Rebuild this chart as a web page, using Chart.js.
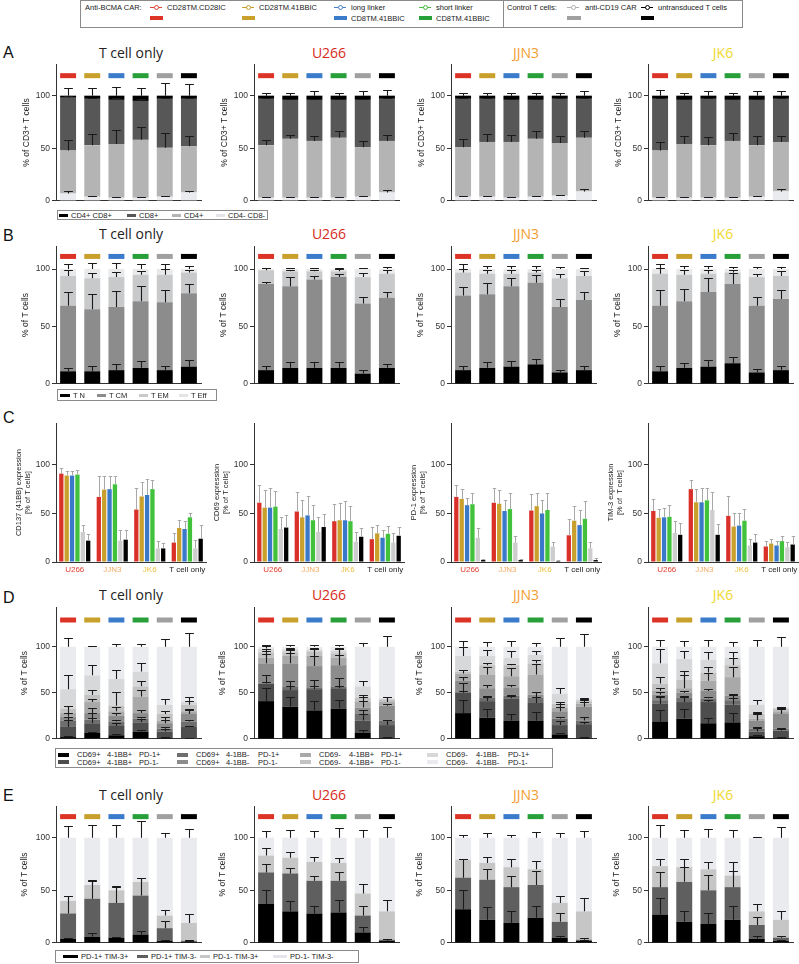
<!DOCTYPE html>
<html><head><meta charset="utf-8">
<script src="https://cdn.jsdelivr.net/npm/chart.js"></script>
<style>
body{margin:0;width:799px;height:964px;position:relative;background:#fff;overflow:hidden;font-family:'Liberation Sans',Arial,sans-serif;color:#222}
canvas{position:absolute}
.t{position:absolute;white-space:nowrap}
.b{position:absolute;border:1px solid #8a8a8a;box-sizing:border-box}
</style></head><body>
<script>
// ---------- DATA ----------
const conditions = ['CD28TM.CD28IC','CD28TM.41BBIC','long linker CD8TM.41BBIC','short linker CD8TM.41BBIC','anti-CD19 CAR','untransduced T cells'];
const targets = ['T cell only','U266','JJN3','JK6'];
const groupLabels = ['U266','JJN3','JK6','T cell only'];

// A: % of CD3+ T cells, subsets bottom->top
const cd3Subsets = ['CD4- CD8-','CD4+','CD8+','CD4+ CD8+'];
const cd3_TcellOnly = [[7,4,3,3,4,8],[41,49,51,55,46.5,44],[50,44,42,37,46.5,45],[2,3,4,5,3,3]];
const cd3_TcellOnly_sd = [[2,1,0.5,0.5,1,1.2],[9.5,11,13,12.5,14.5,10],[1.5,1,1.5,2,1,1],[7,7,8,7,12,11]];
const cd3_U266 = [[3,3,3,3,4,8],[50,56,54,57,47,49],[44,37,39,36,45,40],[3,4,4,4,4,3]];
const cd3_U266_sd = [[1,1,1,1,1,2],[5,4,5,6,6,6],[1,1,1,1,1,1],[3,3,4,3,4,5]];
const cd3_JJN3 = [[4,4,3,4,5,9],[47,52,53,55,50,51],[46,41,40,37,42,37],[3,3,4,4,3,3]];
const cd3_JJN3_sd = [[1,1,1,1,1,2],[8,8,7,7,7,6],[1,1,1,1,1,1],[3,3,3,3,3,4]];
const cd3_JK6 = [[3,3,3,3,4,9],[45,51,50,54,49,47],[49,42,44,39,43,41],[3,4,3,4,4,3]];
const cd3_JK6_sd = [[1,1,1,1,1,2],[8,8,8,8,9,6],[1,1,1,1,1,1],[5,3,4,3,4,4]];

// B: memory subsets
const memSubsets = ['T N','T CM','T EM','T Eff'];
const mem_TcellOnly = [[11,11,12,14,12,15],[57,54,55,58,59,64],[26,27,26,23,24,18],[6,8,7,5,5,3]];
const mem_TcellOnly_sd = [[3,4.5,5,6,4,5.5],[12,13,14,13,10.5,8],[5,5,4.5,3.5,5,2],[4,5,5.5,4,4,2.5]];
const mem_U266 = [[12,14,14,14,9,14],[75,71,77,79,61,61],[12,13,7,5,23,21],[1,2,2,2,7,4]];
const mem_U266_sd = [[4,5,5,5,3,3],[2,8,3,3,6,5],[2,1,1,2,4,3],[1,1,1,1,1,2]];
const mem_JJN3 = [[12,14,15,17,10,12],[65,64,70,71,57,61],[20,18,11,9,25,21],[3,4,4,3,8,6]];
const mem_JJN3_sd = [[4,5,5,5,2,4],[7,10,7,7,7,7],[3,3,3,2,4,4],[4,3,3,3,2,1]];
const mem_JK6 = [[11,14,15,18,10,12],[57,58,65,69,58,62],[28,23,16,10,25,20],[4,5,4,3,7,6]];
const mem_JK6_sd = [[5,4,6,5,3,4],[14,11,12,10,8,8],[5,4,3,2,3,4],[4,3,3,2,2,2]];

// C: single marker expression [% of T cells], per condition across groups (U266, JJN3, JK6, T cell only)
const cd137 = [[91,67,54,20],[89,74.5,67.5,35],[89,75,69,34],[90,80,75,46],[31,22,14,14],[22,23,14,24]];
const cd137_sd = [[6,22,22,10],[5,14,15,8.5],[5,14,16,8],[5,8.5,9,4.5],[7,11,8,9],[7,10,6,14]];
const cd69 = [[61,52,42,23.5],[56,46,43,29.5],[56,48,43,25],[57,43,42,29],[34,31,21,20],[35.5,36,26,27]];
const cd69_sd = [[18,20,18,12.5],[18,18,17.5,9],[20,20,19.5,8],[16.5,15.5,15.5,8],[12,15,10,10],[12.5,13,9.5,9]];
const pd1 = [[67,61,53,27.5],[65,60,57.5,42.5],[58.5,52.5,50,38],[59.5,54.5,53.5,44.5],[25,20,16,14],[2,2,1,2]];
const pd1_sd = [[12,15,17,16.5],[10.5,14,14,15.5],[7.5,11.5,13.5,15.5],[12,17,18,18.5],[10,6.5,5,7],[1,1,1,2]];
const tim3 = [[52.5,75,47.5,16],[45.5,61.5,36.5,19],[46,61.5,37.5,17],[46.5,63.5,42.5,21.5],[30,53.5,17,15],[28,28,20,18]];
const tim3_sd = [[12,9,20.5,6],[9.5,13.5,13.5,4.5],[10,15,12.5,4.5],[12,13,12.5,5.5],[12,18.5,6.5,6],[12,11,9,9]];

// D: CD69 / 4-1BB / PD-1 combinations
const comboSubsets = ['CD69+ 4-1BB+ PD-1+','CD69+ 4-1BB+ PD-1-','CD69+ 4-1BB- PD-1+','CD69+ 4-1BB- PD-1-','CD69- 4-1BB+ PD-1+','CD69- 4-1BB+ PD-1-','CD69- 4-1BB- PD-1+','CD69- 4-1BB- PD-1-'];
const combo_TcellOnly = [[2,7,4,8,1,0.5],[11,10,10,10,7,12.5],[7,4,5,4,3,6],[4,7,6,6,6,8],[4,12,5,18,3,3],[5,8,6,11,7,7],[21,21,29,16,10,3],[46,31,35,27,63,60]];
const combo_TcellOnly_sd = [[1,1,1,2,1,0.5],[7,6,3,4,3,1],[4,7,2,2,2,1],[4,5,3,3,4,4],[8,3,5,7,4,2],[3,5,15,6,3,4],[15,11,10,9,6,6],[10,0.5,3,3,8,15]];
const combo_U266 = [[41,35,31,33,7,1],[19,18,23,22,13,14],[1,4,2,2,7,5],[21,25,23,23,7,16],[6,8,11,8,6,4],[6,4,5,5,5,3],[4,3,2,3,12,1],[2,3,3,4,43,56]];
const combo_U266_sd = [[14,11,10,9,3,1],[9,4,3,2,7,6],[1,6,8,9,4,1],[10,11,11,11,7,2],[7,6,7,9,5,5],[3,3,3,5,3,2],[3,2,2,3,6,1],[2,2,2,2,4,12]];
const combo_JJN3 = [[28,23,20,20,5,1],[22,18,24,19,10,15],[1,4,3,6,7,4],[12,10,9,3,8,15],[8,15,12,22,4,3],[2,10,12,12,4,3],[17,10,8,9,11,2],[10,10,12,9,51,57]];
const combo_JJN3_sd = [[14,9,7,9,1,1],[2,5,3,6,4,2],[10,2,1,6,2,4],[4,3,2,3,5,5],[4,8,9,11,4,4],[2,2,1,4,2,2],[10,6,7,4,6,1],[6,5,6,4,10,14]];
const combo_JK6 = [[19,22,17,18,3,1],[19,18,23,19,5,8],[4,5,4,5,3,2],[6,5,8,5,9,16],[4,5,11,20,2,3],[8,9,9,13,5,3],[22,23,14,8,10,1],[18,13,14,12,63,66]];
const combo_JK6_sd = [[12,10,6,10,1,1],[7,5,2,7,4,2],[5,2,1,6,2,1],[3,2,2,2,7,5],[3,14,9,11,6,4],[7,10,6,8,2,2],[16,8,8,6,5,1],[7,6,7,5,7,11]];

// E: PD-1 / TIM-3
const exhSubsets = ['PD-1+ TIM-3+','PD-1+ TIM-3-','PD-1- TIM-3+','PD-1- TIM-3-'];
const exh_TcellOnly = [[4,6,5,8,2,1],[24,36,33,37,12,1],[12,13,12,13,12,17],[60,45,50,42,74,81]];
const exh_TcellOnly_sd = [[1,3,1,3,1,0.5],[17,17,15,17,7,1],[5,5,4,4,5,8],[11,12,12,16,4,8]];
const exh_U266 = [[37,30,28,29,10,2],[30,36,31,30,16,1],[16,15,18,17,21,27],[17,19,23,24,53,70]];
const exh_U266_sd = [[13,10,7,12,5,2],[8,5,5,8,9,1],[7,5,5,5,9,11],[6,7,6,9,7,10]];
const exh_JJN3 = [[32,22,19,24,5,2],[30,38,34,31,15,1],[17,16,19,15,18,27],[21,24,28,30,62,70]];
const exh_JJN3_sd = [[18,12,11,11,2,1],[18,10,11,13,8,2],[1,6,8,8,7,13],[3,4,3,5,4,6]];
const exh_JK6 = [[27,20,18,22,4,2],[26,38,32,31,13,3],[20,14,20,11,13,17],[27,28,30,36,70,78]];
const exh_JK6_sd = [[16,10,10,13,3,1],[14,14,15,15,8,2],[7,8,7,13,7,8],[12,7,8,7,1,10]];

// ---------- STYLE ----------
const FONT = "'Liberation Sans', Arial, sans-serif";
const markerColors = ['#dc3326','#c9a02c','#3b7bcb','#27a03a','#a0a0a0','#000000'];
const cColors = ['#d9302a','#c9a02c','#3a78c8','#41c23a','#cdcdcd','#000000'];
const cd3Colors = ['#e9ebee','#b4b4b4','#575757','#000000'];
const memColors = ['#000000','#8c8c8c','#c8c9ca','#e7e9eb'];
const comboColors = ['#000000','#4d4d4d','#6e6e6e','#8c8c8c','#a9a9a9','#c2c2c2','#d6d8da','#e9ebee'];
const exhColors = ['#000000','#5f5f5f','#c6c6c6','#e9ebee'];
const titleColors = ['#222222','#d62a20','#f39c2e','#efd82c'];
const groupColors = ['#e0402f','#f5ac64','#eebf3c','#222222'];
const COLS = [56,254,451,648];

// ---------- PLUGINS ----------
const errPlugin = {
  id:'errbars',
  afterDatasetsDraw(chart, args, o){
    const ctx = chart.ctx, y = chart.scales.y;
    ctx.save(); ctx.strokeStyle = o.color; ctx.lineWidth = o.width;
    chart.data.datasets.forEach((ds,di)=>{
      if(!ds.sd) return;
      chart.getDatasetMeta(di).data.forEach((el,i)=>{
        const sd = ds.sd[i]; if(!sd) return;
        const len = y.getPixelForValue(0) - y.getPixelForValue(sd);
        const x = Math.round(el.x)+0.5, y0 = el.y, y1 = Math.round(el.y - len)+0.5;
        const cw = el.width*o.cap/2;
        ctx.beginPath(); ctx.moveTo(x,y0); ctx.lineTo(x,y1);
        ctx.moveTo(x-cw,y1); ctx.lineTo(x+cw,y1); ctx.stroke();
      });
    });
    ctx.restore();
  }
};
const markerPlugin = {
  id:'condMarkers',
  afterDatasetsDraw(chart, args, o){
    if(!o.level) return;
    const ctx = chart.ctx, y = chart.scales.y;
    const meta = chart.getDatasetMeta(0);
    const yc = y.getPixelForValue(o.level);
    ctx.save();
    meta.data.forEach((el,i)=>{
      ctx.fillStyle = markerColors[i];
      ctx.fillRect(el.x - el.width/2, yc - 2.5, el.width, 5);
    });
    ctx.restore();
  }
};

// ---------- HELPERS ----------
function txt(x, yc, s, size, color, extra){
  const d = document.createElement('div'); d.className='t';
  const lh = Math.round(size*1.25);
  d.style.cssText = `left:${x}px;top:${yc-lh/2}px;font-size:${size}px;line-height:${lh}px;color:${color||'#222'};${extra||''}`;
  d.textContent = s; document.body.appendChild(d); return d;
}
function rect(x,y,w,h,c){ const d=document.createElement('div'); d.style.cssText=`position:absolute;left:${x}px;top:${y}px;width:${w}px;height:${h}px;background:${c}`; document.body.appendChild(d); }
function box(x,y,w,h){ const d=document.createElement('div'); d.className='b'; d.style.cssText+=`left:${x}px;top:${y}px;width:${w}px;height:${h}px`; document.body.appendChild(d); }
function lineMarker(x,yc,c){
  rect(x, yc-0.5, 12, 1, c);
  const d=document.createElement('div');
  d.style.cssText=`position:absolute;left:${x+3.5}px;top:${yc-2.5}px;width:5px;height:5px;border:1px solid ${c};border-radius:50%;background:#fff;box-sizing:border-box`;
  document.body.appendChild(d);
}
function title(col, capTop, s, color){
  const d=document.createElement('div'); d.className='t';
  d.style.cssText=`left:${COLS[col]+75-70}px;width:140px;text-align:center;top:${capTop-2.4}px;font-family:'Open Sans',sans-serif;font-size:14px;line-height:14px;color:${color}`;
  d.textContent=s; document.body.appendChild(d);
}
function letter(s, capTop){ txt(3, capTop+6, s, 16, '#111'); }

function newCanvas(left, top, w, h){
  const c=document.createElement('canvas'); c.width=w; c.height=h;
  c.style.left=left+'px'; c.style.top=top+'px'; document.body.appendChild(c); return c;
}

function yScale(row){
  return {
    stacked: row.stacked, min:0, max:row.max,
    ticks:{stepSize:50, includeBounds:false, font:{size:8.5, family:FONT}, color:'#333', padding:2},
    grid:{drawOnChartArea:false, drawTicks:true, tickLength:4, color:'#333', lineWidth:1},
    border:{display:true, color:'#333', width:1},
    title:{display:true, text:row.yTitle, font:{size:row.yTitleSize||8.5, family:FONT, lineHeight:1.2}, color:'#222', padding:{top:row.titlePad, bottom:0}},
    afterFit: s => { s.width = 56; }
  };
}

function stacked(col, row, names, values, sds, colors){
  const padTop=6, padBottom=3, plotW=145;
  const top = Math.round(row.top) - padTop;
  const h = Math.round(row.zero) - top + 1 + padBottom;
  const cv = newCanvas(COLS[col]-56, top, 56+plotW+4, h);
  new Chart(cv, {
    type:'bar',
    data:{labels:conditions, datasets:names.map((n,k)=>({label:n, data:values[k], sd:sds[k], backgroundColor:colors[k], borderWidth:0, barPercentage:0.66, categoryPercentage:1}))},
    options:{
      responsive:false, animation:false, devicePixelRatio:1,
      layout:{padding:{left:0,right:4,top:padTop,bottom:padBottom}},
      plugins:{legend:{display:false}, tooltip:{enabled:false}, errbars:{color:'#1a1a1a', width:1.1, cap:0.55}, condMarkers:{level:row.marker}},
      scales:{
        x:{stacked:true, ticks:{display:false}, grid:{display:false, drawTicks:false}, border:{display:true,color:'#333',width:1}, afterFit:s=>{s.height=1;}},
        y:yScale({...row, stacked:true})
      }
    },
    plugins:[errPlugin, markerPlugin]
  });
}

function grouped(col, row, yTitle, values, sds){
  const padTop=6, padBottom=2, plotW=150, xH=16;
  const top = Math.round(row.top) - padTop;
  const h = Math.round(row.zero) - top + xH + padBottom;
  const cv = newCanvas(COLS[col]-56, top, 56+plotW+6, h);
  new Chart(cv, {
    type:'bar',
    data:{labels:groupLabels, datasets:conditions.map((n,k)=>({label:n, data:values[k], sd:sds[k], backgroundColor:cColors[k], borderWidth:0, barPercentage:0.8, categoryPercentage:0.86}))},
    options:{
      responsive:false, animation:false, devicePixelRatio:1,
      layout:{padding:{left:0,right:6,top:padTop,bottom:padBottom}},
      plugins:{legend:{display:false}, tooltip:{enabled:false}, errbars:{color:'#a8a8a8', width:1, cap:0.8}},
      scales:{
        x:{ticks:{font:{size:8, family:FONT}, color:c=>groupColors[c.index], padding:3, maxRotation:0, autoSkip:false}, grid:{display:false, drawTicks:false}, border:{display:true,color:'#333',width:1}, afterFit:s=>{s.height=xH;}},
        y:yScale({...row, yTitle:yTitle, stacked:false})
      }
    },
    plugins:[errPlugin]
  });
}

// ---------- TOP LEGEND ----------
box(80,0,424,28); box(503,0,240,28);
txt(85,7,'Anti-BCMA CAR:',7.5);
const legItems = [[150,'CD28TM.CD28IC',null],[242,'CD28TM.41BBIC',null],[334,'long linker','CD8TM.41BBIC'],[419,'short linker','CD8TM.41BBIC']];
const legMarkCols = ['#e0453a','#c9a02c','#4a82cf','#45c23d'];
legItems.forEach((it,i)=>{
  lineMarker(it[0],7,legMarkCols[i]);
  txt(it[0]+17,7,it[1],7.5);
  rect(it[0],16,13,4,markerColors[i]);
  if(it[2]) txt(it[0]+17,18.5,it[2],7.5);
});
txt(507,7,'Control T cells:',7.5);
lineMarker(567,7,'#b0b0b0'); txt(585,7,'anti-CD19 CAR',7.5); rect(567,16,14,4,'#a0a0a0');
lineMarker(641,7,'#000'); txt(658,7,'untransduced T cells',7.5); rect(641,16,13,4,'#000');

// ---------- ROWS ----------
const rowA = {top:63, zero:204, max:130, yTitle:'% of CD3+ T cells', titlePad:22, marker:119};
const rowB = {top:245, zero:387, max:120, yTitle:'% of T cells', titlePad:21, marker:111};
const rowC = {top:422, zero:562, max:143, titlePad:14.5, yTitleSize:7.5};
const rowD = {top:606, zero:742, max:143, yTitle:'% of T cells', titlePad:20, marker:129};
const rowE = {top:805, zero:946, max:130, yTitle:'% of T cells', titlePad:20, marker:120};

letter('A',47); letter('B',230); letter('C',412); letter('D',592); letter('E',790);
targets.forEach((t,i)=>{
  title(i,48,t,titleColors[i]); title(i,229,t,titleColors[i]);
  title(i,590,t,titleColors[i]); title(i,790,t,titleColors[i]);
});

stacked(0,rowA,cd3Subsets,cd3_TcellOnly,cd3_TcellOnly_sd,cd3Colors);
stacked(1,rowA,cd3Subsets,cd3_U266,cd3_U266_sd,cd3Colors);
stacked(2,rowA,cd3Subsets,cd3_JJN3,cd3_JJN3_sd,cd3Colors);
stacked(3,rowA,cd3Subsets,cd3_JK6,cd3_JK6_sd,cd3Colors);

stacked(0,rowB,memSubsets,mem_TcellOnly,mem_TcellOnly_sd,memColors);
stacked(1,rowB,memSubsets,mem_U266,mem_U266_sd,memColors);
stacked(2,rowB,memSubsets,mem_JJN3,mem_JJN3_sd,memColors);
stacked(3,rowB,memSubsets,mem_JK6,mem_JK6_sd,memColors);

grouped(0,rowC,['CD137 (41BB) expression','[% of T cells]'],cd137,cd137_sd);
grouped(1,rowC,['CD69 expression','[% of T cells]'],cd69,cd69_sd);
grouped(2,rowC,['PD-1 expression','[% of T cells]'],pd1,pd1_sd);
grouped(3,rowC,['TIM-3 expression','[% of  T cells]'],tim3,tim3_sd);

stacked(0,rowD,comboSubsets,combo_TcellOnly,combo_TcellOnly_sd,comboColors);
stacked(1,rowD,comboSubsets,combo_U266,combo_U266_sd,comboColors);
stacked(2,rowD,comboSubsets,combo_JJN3,combo_JJN3_sd,comboColors);
stacked(3,rowD,comboSubsets,combo_JK6,combo_JK6_sd,comboColors);

stacked(0,rowE,exhSubsets,exh_TcellOnly,exh_TcellOnly_sd,exhColors);
stacked(1,rowE,exhSubsets,exh_U266,exh_U266_sd,exhColors);
stacked(2,rowE,exhSubsets,exh_JJN3,exh_JJN3_sd,exhColors);
stacked(3,rowE,exhSubsets,exh_JK6,exh_JK6_sd,exhColors);

// ---------- PANEL LEGENDS ----------
function legendRow(items, yc, size){
  items.forEach(it=>{ rect(it[0], yc-1.5, it[1], 3, it[2]); txt(it[0]+it[1]+3, yc, it[3], size); });
}
box(57,210,211,10);
legendRow([[59,9,'#000','CD4+ CD8+'],[127,9,'#575757','CD8+'],[172,9,'#b4b4b4','CD4+'],[216,9,'#e2e4e7','CD4- CD8-']],215,7.5);
box(57,389,160,12);
legendRow([[60,10,'#000','T N'],[97,9,'#8c8c8c','T CM'],[139,9,'#c8c9ca','T EM'],[179,9,'#e2e4e6','T Eff']],395,7.5);
box(55,748,498,20);
const dCols = [58,177,300,427];
comboSubsets.forEach((s,k)=>{
  const c = Math.floor(k/2), r = k%2;
  const x = dCols[c], yc = r===0?754.5:762;
  rect(x, yc-2, 11, 4, comboColors[k]);
  const p = s.split(' ');
  txt(x+19, yc, p[0], 7.5); txt(x+49, yc, p[1], 7.5); txt(x+81, yc, p[2], 7.5);
});
box(55,950,304,13);
legendRow([[63,15,'#000','PD-1+ TIM-3+'],[137,11,'#5f5f5f','PD-1+ TIM-3-'],[200,10,'#c6c6c6','PD-1- TIM-3+'],[273,14,'#e4e6e9','PD-1- TIM-3-']],956.5,7.5);
</script>
</body></html>
